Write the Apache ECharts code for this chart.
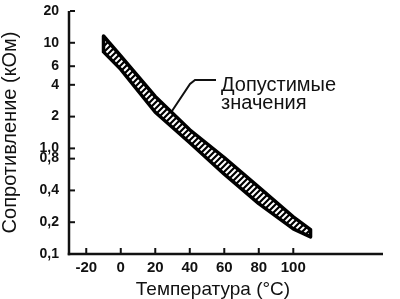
<!DOCTYPE html>
<html>
<head>
<meta charset="utf-8">
<script src="https://cdn.jsdelivr.net/npm/echarts@6/dist/echarts.min.js"></script>
<style>
  html, body { margin: 0; padding: 0; background: #fff; }
  #chart { width: 400px; height: 299px; }
</style>
</head>
<body>
<div id="chart"></div>
<script>
// данные: температура и границы допустимого сопротивления (кОм)
var temps = [-10, 0, 20, 40, 60, 80, 100, 110];
var upper = [11.6, 7.5, 3.1, 1.5, 0.82, 0.43, 0.225, 0.17];
var lower = [8.2, 5.6, 2.2, 1.13, 0.57, 0.3, 0.173, 0.145];

var xTicks = [-20, 0, 20, 40, 60, 80, 100];
var yTicks = [0.1, 0.2, 0.4, 0.8, 1, 2, 4, 6, 10, 20];

var xMin = -30, xMax = 152, yMin = 0.1, yMax = 20;

var font = '"Liberation Sans", Arial, sans-serif';

// штриховка полосы
var hatch = document.createElement('canvas');
hatch.width = 6;
hatch.height = 6;
var hc = hatch.getContext('2d');
hc.fillStyle = '#fff';
hc.fillRect(0, 0, 6, 6);
hc.strokeStyle = '#000';
hc.lineWidth = 2.2;
hc.beginPath();
hc.moveTo(-1, 7); hc.lineTo(7, -1);
hc.moveTo(-4, 4); hc.lineTo(4, -4);
hc.moveTo(2, 10); hc.lineTo(10, 2);
hc.stroke();

var bandData = temps.map(function (t, i) { return [t, upper[i], lower[i]]; });

var chart = echarts.init(document.getElementById('chart'));

// сплошной прямоугольник вместо линии
function box(x, y, w, h) {
  return {
    type: 'rect',
    shape: { x: x, y: y, width: w, height: h },
    style: { fill: '#111' }
  };
}

var option = {
  animation: false,
  grid: { left: 69, right: 17, top: 11, bottom: 45, outerBoundsMode: 'none' },
  xAxis: {
    type: 'value',
    min: xMin,
    max: xMax,
    name: 'Температура (°C)',
    nameLocation: 'middle',
    nameGap: 24,
    nameTextStyle: { fontFamily: font, fontSize: 19, color: '#111', padding: [0, 26, 0, 0] },
    splitLine: { show: false },
    axisLine: { show: false },
    axisTick: { show: false },
    axisLabel: {
      customValues: xTicks,
      margin: 6,
      fontFamily: font, fontSize: 15, fontWeight: 'bold', color: '#111'
    }
  },
  yAxis: {
    type: 'log',
    min: yMin,
    max: yMax,
    name: 'Сопротивление (кОм)',
    nameLocation: 'middle',
    nameGap: 49,
    nameTextStyle: { fontFamily: font, fontSize: 20, color: '#111' },
    splitLine: { show: false },
    axisLine: { show: false },
    axisTick: { show: false },
    axisLabel: {
      customValues: yTicks,
      margin: 10,
      fontFamily: font, fontSize: 14, fontWeight: 'bold', color: '#111',
      formatter: function (v) {
        var r = Math.round(v * 10) / 10;
        if (r <= 1) return r.toFixed(1).replace('.', ',');
        return String(Math.round(r));
      }
    }
  },
  graphic: [
    {
      type: 'polyline',
      shape: { points: [[216, 80], [195, 80], [190, 84], [172, 111]] },
      style: { stroke: '#111', lineWidth: 2 }
    },
    {
      type: 'text', left: 221, top: 75,
      style: { text: 'Допустимые', font: '20px ' + font, fill: '#111' }
    },
    {
      type: 'text', left: 221, top: 93,
      style: { text: 'значения', font: '20px ' + font, fill: '#111' }
    }
  ],
  series: [
    {
      name: 'Допустимые значения',
      type: 'custom',
      clip: false,
      data: bandData,
      encode: { x: 0, y: [1, 2] },
      renderItem: function (params, api) {
        if (params.dataIndex !== 0) return;
        var children = [];
        // оси и засечки по шкалам графика
        var o = api.coord([xMin, yMin]);
        var xEnd = api.coord([xMax, yMin]);
        var yEnd = api.coord([xMin, yMax]);
        children.push(box(o[0] - 1.25, o[1] - 1.25, xEnd[0] - o[0] + 1.25, 2.5));
        children.push(box(o[0] - 1.25, yEnd[1], 2.5, o[1] - yEnd[1] + 1.25));
        xTicks.forEach(function (t) {
          var p = api.coord([t, yMin]);
          children.push(box(p[0] - 1, p[1] - 6, 2, 5));
        });
        yTicks.forEach(function (v) {
          var p = api.coord([xMin, v]);
          children.push(box(p[0] + 1, p[1] - 1, 5, 2));
        });

        var pts = [];
        bandData.forEach(function (d) { pts.push(api.coord([d[0], d[1]])); });
        for (var i = bandData.length - 1; i >= 0; i--) {
          pts.push(api.coord([bandData[i][0], bandData[i][2]]));
        }
        children.push({
          type: 'polygon',
          shape: { points: pts },
          style: {
            fill: { image: hatch, repeat: 'repeat' },
            stroke: '#000',
            lineWidth: 3.5,
            lineJoin: 'round'
          }
        });
        return { type: 'group', children: children };
      }
    }
  ]
};

chart.setOption(option);
</script>
</body>
</html>
